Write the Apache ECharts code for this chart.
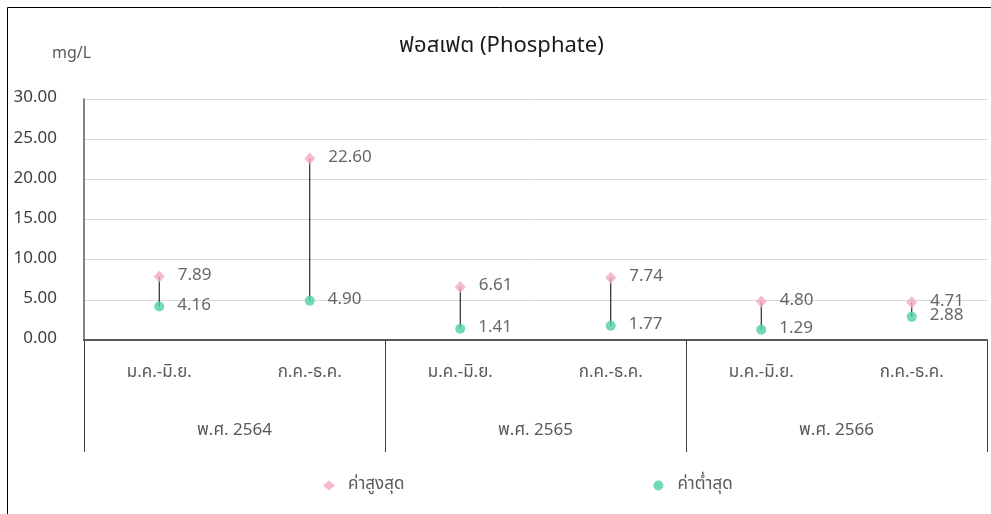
<!DOCTYPE html>
<html>
<head>
<meta charset="utf-8">
<script src="https://cdn.jsdelivr.net/npm/echarts@6/dist/echarts.min.js"></script>
<style>
  html, body { margin: 0; padding: 0; background: #fff; }
  #chart { width: 991px; height: 514px; }
</style>
</head>
<body>
<div id="chart"></div>
<script>
// Half-year periods and the Buddhist-era years they belong to
const periods = ['ม.ค.-มิ.ย.', 'ก.ค.-ธ.ค.', 'ม.ค.-มิ.ย.', 'ก.ค.-ธ.ค.', 'ม.ค.-มิ.ย.', 'ก.ค.-ธ.ค.'];
const years = ['พ.ศ. 2564', 'พ.ศ. 2565', 'พ.ศ. 2566'];

// Phosphate readings (mg/L)
const maxValues = [7.89, 22.60, 6.61, 7.74, 4.80, 4.71];
const minValues = [4.16, 4.90, 1.41, 1.77, 1.29, 2.88];

const yTicks = { min: 0, max: 30, interval: 5 };

const FONT = "'Noto Sans Thai', 'Tahoma', 'Noto Sans', sans-serif";
const TEXT = '#404040';
const SOFT = '#595959';

const rangeData = periods.map((_, i) => [i, minValues[i], maxValues[i]]);

const chart = echarts.init(document.getElementById('chart'), null, { renderer: 'canvas' });

const valueLabel = {
  show: true,
  position: 'right',
  distance: 13,
  fontFamily: FONT,
  fontSize: 17,
  color: TEXT,
  formatter: p => p.value.toFixed(2)
};

chart.setOption({
  backgroundColor: '#ffffff',
  animation: false,
  title: {
    text: 'ฟอสเฟต (Phosphate)',
    left: 394,
    top: 32,
    textStyle: { fontFamily: FONT, fontSize: 22, fontWeight: 'normal', color: '#1a1a1a' }
  },
  graphic: [
    {
      type: 'rect',
      shape: { x: 7.5, y: 7.5, width: 1000, height: 530 },
      style: { fill: null, stroke: '#000', lineWidth: 1 },
      silent: true
    },
    {
      type: 'text',
      left: 52,
      top: 47,
      style: { text: 'mg/L', font: '16px ' + FONT, fill: SOFT }
    }
  ],
  legend: {
    left: 318,
    top: 472,
    itemGap: 249,
    itemWidth: 12,
    itemHeight: 10,
    textStyle: { fontFamily: FONT, fontSize: 17, color: SOFT, padding: [0, 0, 0, 8] },
    data: [
      { name: 'ค่าสูงสุด', icon: 'diamond' },
      { name: 'ค่าต่ำสุด', icon: 'circle' }
    ]
  },
  grid: { left: 84, right: 4, top: 99, bottom: 174 },
  xAxis: [
    {
      type: 'category',
      data: periods,
      position: 'bottom',
      axisLine: { show: true, lineStyle: { color: SOFT, width: 2 } },
      axisTick: { show: false },
      axisLabel: { margin: 25, fontFamily: FONT, fontSize: 17, color: SOFT }
    },
    {
      type: 'category',
      data: years,
      position: 'bottom',
      axisLine: { show: false },
      axisTick: { show: true, length: 112, interval: 0, lineStyle: { color: TEXT, width: 1 } },
      axisLabel: { margin: 83, fontFamily: FONT, fontSize: 17, color: SOFT }
    }
  ],
  yAxis: {
    type: 'value',
    min: yTicks.min,
    max: yTicks.max,
    interval: yTicks.interval,
    axisLine: { show: true, lineStyle: { color: SOFT, width: 1.5 } },
    axisTick: { show: false },
    splitLine: { lineStyle: { color: '#d9d9d9', width: 1 } },
    axisLabel: {
      margin: 27,
      fontFamily: FONT,
      fontSize: 17,
      color: TEXT,
      formatter: v => v.toFixed(2)
    }
  },
  series: [
    {
      // vertical high-low connector for each period
      type: 'custom',
      xAxisIndex: 0,
      silent: true,
      z: 1,
      renderItem: (params, api) => {
        const lo = api.coord([api.value(0), api.value(1)]);
        const hi = api.coord([api.value(0), api.value(2)]);
        return {
          type: 'line',
          shape: { x1: lo[0], y1: lo[1], x2: hi[0], y2: hi[1] },
          style: { stroke: '#000', lineWidth: 1 }
        };
      },
      encode: { x: 0, y: [1, 2] },
      data: rangeData
    },
    {
      name: 'ค่าสูงสุด',
      type: 'scatter',
      xAxisIndex: 0,
      symbol: 'diamond',
      symbolSize: [11, 12],
      z: 3,
      itemStyle: { color: '#F4A9BE' },
      label: valueLabel,
      data: maxValues
    },
    {
      name: 'ค่าต่ำสุด',
      type: 'scatter',
      xAxisIndex: 0,
      symbol: 'circle',
      symbolSize: 10,
      z: 3,
      itemStyle: { color: '#4FD1A6' },
      label: valueLabel,
      data: minValues
    }
  ]
});
</script>
</body>
</html>
